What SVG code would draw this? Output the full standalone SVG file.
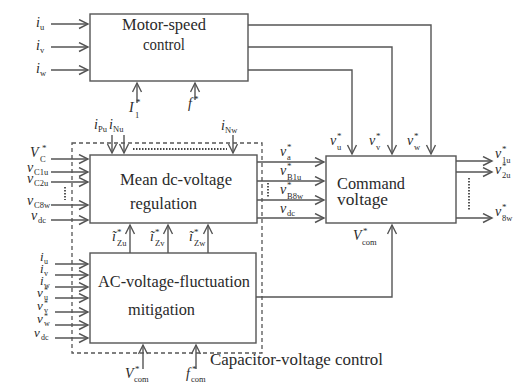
<svg xmlns="http://www.w3.org/2000/svg" width="518" height="385" viewBox="0 0 518 385">
<style>
.box{fill:#fff;stroke:#555;stroke-width:1.4}
.arr{fill:none;stroke:#555;stroke-width:1.4;marker-end:url(#ah)}
.dot{fill:none;stroke:#444;stroke-width:1.8;stroke-dasharray:1.5 1.5}
.dash{fill:none;stroke:#555;stroke-width:1.3;stroke-dasharray:4 3}
text{font-family:"Liberation Serif","DejaVu Serif",serif;fill:#2a2a2a}
.t{font-size:16px}
.v{font-size:14px;font-style:italic}
.s{font-size:8.5px}
.st{font-size:9px}
.vs{font-size:13px;font-style:italic}
.ss{font-size:8px}
.sts{font-size:8px}
</style>
<defs>
<marker id="ah" markerUnits="userSpaceOnUse" markerWidth="12" markerHeight="12" refX="10" refY="5" orient="auto">
<path d="M1,0.5 L10,5 L1,9.5" fill="none" stroke="#555" stroke-width="1.4"/>
</marker>
</defs>

<g id="connectors">
<path class="arr" d="M51,24 H88"/>
<path class="arr" d="M51,47 H88"/>
<path class="arr" d="M51,70 H88"/>
<path class="arr" d="M137,103 V83"/>
<path class="arr" d="M195,100 V83"/>
<path class="arr" d="M248,25 H431 V154"/>
<path class="arr" d="M248,47 H392 V154"/>
<path class="arr" d="M248,70 H352 V154"/>
<path class="arr" d="M51,159 H88"/>
<path class="arr" d="M51,172 H88"/>
<path class="arr" d="M51,182 H88"/>
<path class="arr" d="M51,205 H88"/>
<path class="arr" d="M51,220 H88"/>
<path class="dot" d="M65,187 V200"/>
<path class="arr" d="M112,135 V153"/>
<path class="arr" d="M124,135 V153"/>
<path class="arr" d="M233,135 V153"/>
<path class="dot" d="M133,149 H227"/>
<path class="arr" d="M257,162 H324"/>
<path class="arr" d="M257,181 H324"/>
<path class="arr" d="M257,200 H324"/>
<path class="arr" d="M257,218 H324"/>
<path class="dot" d="M268,183 V198"/>
<path class="arr" d="M456,161 H492"/>
<path class="arr" d="M456,172 H492"/>
<path class="arr" d="M456,218 H492"/>
<path class="dot" d="M469,178 V210"/>
<path class="arr" d="M130,253 V225"/>
<path class="arr" d="M168,253 V225"/>
<path class="arr" d="M208,253 V225"/>
<path class="arr" d="M55,264 H88"/>
<path class="arr" d="M55,275 H88"/>
<path class="arr" d="M55,287 H88"/>
<path class="arr" d="M55,298 H88"/>
<path class="arr" d="M55,312 H88"/>
<path class="arr" d="M55,325 H88"/>
<path class="arr" d="M55,338 H88"/>
<path class="arr" d="M143,369 V345"/>
<path class="arr" d="M196,369 V345"/>
<path class="arr" d="M256,297 H392 V225"/>
</g>

<rect class="dash" x="72" y="143" width="190" height="210"/>

<g id="motor">
<rect class="box" x="90" y="14" width="158" height="67"/>
<text class="t" x="122" y="30" textLength="84" lengthAdjust="spacingAndGlyphs">Motor-speed</text>
<text class="t" x="143" y="50" textLength="42" lengthAdjust="spacingAndGlyphs">control</text>
</g>

<g id="mean">
<rect class="box" x="90" y="155" width="167" height="68"/>
<text class="t" x="120" y="185" textLength="112" lengthAdjust="spacingAndGlyphs">Mean dc-voltage</text>
<text class="t" x="130" y="209" textLength="67" lengthAdjust="spacingAndGlyphs">regulation</text>
</g>

<g id="ac">
<rect class="box" x="90" y="253" width="166" height="90"/>
<text class="t" x="98" y="287" textLength="152" lengthAdjust="spacingAndGlyphs">AC-voltage-fluctuation</text>
<text class="t" x="128" y="315" textLength="67" lengthAdjust="spacingAndGlyphs">mitigation</text>
</g>

<g id="command">
<rect class="box" x="326" y="156" width="130" height="67"/>
<text class="t" x="337" y="189" textLength="68" lengthAdjust="spacingAndGlyphs">Command</text>
<text class="t" x="337" y="205" textLength="51" lengthAdjust="spacingAndGlyphs">voltage</text>
</g>

<g id="labels">
<text class="v" x="36" y="27">i</text><text class="s" x="40" y="30">u</text>
<text class="v" x="36" y="50">i</text><text class="s" x="40" y="53">v</text>
<text class="v" x="36" y="73">i</text><text class="s" x="40" y="76">w</text>
<text class="v" x="129" y="112">I</text><text class="st" x="136" y="105">*</text><text class="s" x="135" y="118">1</text>
<text class="v" x="188" y="108">f</text><text class="st" x="194" y="102">*</text>

<text class="v" x="94" y="129">i</text><text class="s" x="98" y="132">Pu</text>
<text class="v" x="109" y="129">i</text><text class="s" x="113" y="132">Nu</text>
<text class="v" x="221" y="130">i</text><text class="s" x="225" y="133">Nw</text>

<text class="v" x="30" y="157">V</text><text class="st" x="42" y="151">*</text><text class="s" x="40" y="162">C</text>
<text class="v" x="27" y="172">v</text><text class="s" x="34" y="175">C1u</text>
<text class="v" x="27" y="183">v</text><text class="s" x="34" y="186">C2u</text>
<text class="v" x="27" y="205">v</text><text class="s" x="34" y="208">C8w</text>
<text class="v" x="31" y="220">v</text><text class="s" x="38" y="223">dc</text>

<text class="v" x="280" y="156">v</text><text class="st" x="287" y="150">*</text><text class="s" x="287" y="160">a</text>
<text class="v" x="280" y="175">v</text><text class="st" x="287" y="169">*</text><text class="s" x="287" y="180">B1u</text>
<text class="v" x="280" y="194">v</text><text class="st" x="287" y="188">*</text><text class="s" x="287" y="199">B8w</text>
<text class="v" x="280" y="213">v</text><text class="s" x="287" y="216">dc</text>

<text class="v" x="330" y="145">v</text><text class="st" x="337" y="139">*</text><text class="s" x="337" y="150">u</text>
<text class="v" x="369" y="145">v</text><text class="st" x="376" y="139">*</text><text class="s" x="376" y="150">v</text>
<text class="v" x="407" y="145">v</text><text class="st" x="414" y="139">*</text><text class="s" x="414" y="150">w</text>

<text class="v" x="495" y="158">v</text><text class="st" x="502" y="152">*</text><text class="s" x="502" y="163">1u</text>
<text class="v" x="495" y="174">v</text><text class="st" x="502" y="169">*</text><text class="s" x="502" y="178">2u</text>
<text class="v" x="495" y="216">v</text><text class="st" x="502" y="210">*</text><text class="s" x="502" y="221">8w</text>

<text class="v" x="353" y="240">V</text><text class="st" x="363" y="234">*</text><text class="s" x="362" y="245">com</text>

<text class="v" x="112" y="241">ĩ</text><text class="st" x="117" y="235">*</text><text class="s" x="117" y="246">Zu</text>
<text class="v" x="150" y="241">ĩ</text><text class="st" x="155" y="235">*</text><text class="s" x="155" y="246">Zv</text>
<text class="v" x="189" y="241">ĩ</text><text class="st" x="194" y="235">*</text><text class="s" x="194" y="246">Zw</text>

<text class="vs" x="40" y="261">i</text><text class="ss" x="44" y="264">u</text>
<text class="vs" x="40" y="273">i</text><text class="ss" x="44" y="276">v</text>
<text class="vs" x="40" y="285">i</text><text class="ss" x="44" y="288">w</text>
<text class="vs" x="37" y="297">v</text><text class="sts" x="44" y="293">*</text><text class="ss" x="44" y="300">u</text>
<text class="vs" x="37" y="310">v</text><text class="sts" x="44" y="306">*</text><text class="ss" x="44" y="313">v</text>
<text class="vs" x="37" y="323">v</text><text class="sts" x="44" y="319">*</text><text class="ss" x="44" y="326">w</text>
<text class="vs" x="34" y="337">v</text><text class="ss" x="41" y="340">dc</text>

<text class="v" x="125" y="378">V</text><text class="st" x="135" y="372">*</text><text class="s" x="134" y="382">com</text>
<text class="v" x="186" y="378">f</text><text class="st" x="192" y="372">*</text><text class="s" x="191" y="382">com</text>
<text class="t" x="210" y="365" textLength="173" lengthAdjust="spacingAndGlyphs">Capacitor-voltage control</text>
</g>
</svg>
